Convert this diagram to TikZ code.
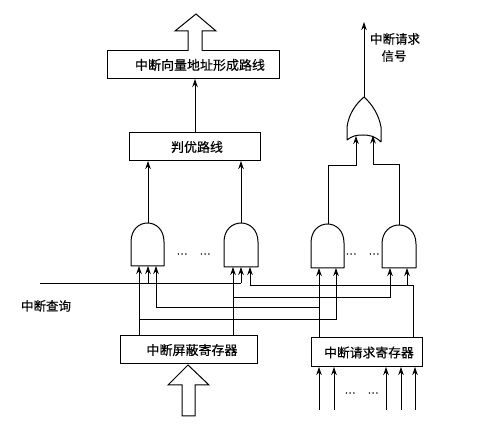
\documentclass[tikz,border=0pt]{standalone}
\usepackage{fontspec}
\setmainfont{Noto Sans CJK SC}[FakeBold=0.25]
\usetikzlibrary{arrows.meta}
\tikzset{
  boxn/.style={draw=black,line width=1pt,fill=white,inner sep=0pt,font=\fontsize{13}{14}\selectfont},
  wire/.style={line width=0.9pt,draw=black},
  arr/.style={wire,-{Stealth[length=8pt,width=5.5pt]}},
  gate/.style={line width=1pt,draw=black,fill=white,line join=round},
  blockarrow/.style={line width=1pt,draw=black,fill=white,line join=miter},
  lbl/.style={inner sep=0pt,font=\fontsize{12.5}{14}\selectfont},
  dots/.style={inner sep=0pt,font=\fontsize{10}{10}\selectfont}
}
\newcommand{\andg}[4]{% left right top bottom
  \path[gate] (#1,#4) -- (#1,{#3+19}) .. controls (#1,{#3+6}) and ({(#1+#2)/2-8},#3) .. ({(#1+#2)/2},#3)
    .. controls ({(#1+#2)/2+8},#3) and (#2,{#3+6}) .. (#2,{#3+19}) -- (#2,#4) -- cycle;}
\begin{document}
\begin{tikzpicture}[x=1pt,y=-1pt]
\useasboundingbox (0,0) rectangle (496,427);
% boxes
\node[boxn,minimum width=172pt,minimum height=28pt] (vec) at (193,65) {\hspace*{14pt}中断向量地址形成路线};
\node[boxn,minimum width=131pt,minimum height=28pt] (pri) at (194.5,147) {\hspace*{5pt}判优路线};
\node[boxn,minimum width=137pt,minimum height=28pt] (mask) at (188.5,350) {\hspace*{7pt}中断屏蔽寄存器};
\node[boxn,minimum width=111pt,minimum height=29pt] (req) at (366.5,352.5) {\hspace*{5pt}\fontsize{12.8}{14}\selectfont 中断请求寄存器};
% block arrows
\path[blockarrow] (188,51) -- (188,31) -- (175,31) -- (196,14) -- (216,31) -- (202,31) -- (202,51);
\path[blockarrow] (182,416) -- (182,385) -- (168,385) -- (188,365) -- (209,385) -- (195,385) -- (195,416) -- cycle;
% gates
\andg{131}{164}{223}{266}
\andg{224}{258}{223}{267}
\andg{311}{344}{224}{268}
\andg{382}{416}{225}{268}
\path[gate] (347,140) -- (347,127) .. controls (349,113) and (356,104) .. (364,97)
  .. controls (372,104) and (379,115) .. (381,127) -- (381,142)
  .. controls (375,136) and (369,135) .. (363,135) .. controls (356,135) and (352,136) .. (347,140) -- cycle;
% ports
\coordinate (g1o) at (148,223); \coordinate (g2o) at (241,223);
\coordinate (g3o) at (328,224); \coordinate (g4o) at (399,225);
\coordinate (p1) at (148,161); \coordinate (p2) at (241,161);
\coordinate (g1a) at (139,266); \coordinate (g1b) at (148,266); \coordinate (g1c) at (156,266);
\coordinate (g2a) at (233,267); \coordinate (g2b) at (241,267); \coordinate (g2c) at (250,267);
\coordinate (g3a) at (319,268); \coordinate (g3b) at (336,268);
\coordinate (g4a) at (390,268); \coordinate (g4b) at (407,268);
\coordinate (m1) at (139,336); \coordinate (m2) at (233,336);
\coordinate (r1) at (319,338); \coordinate (r2) at (413,338);
\coordinate (qs) at (40,283); \coordinate (qe) at (241,283);
\coordinate (or1) at (356,136); \coordinate (or2) at (373,135.5);
\coordinate (oro) at (364,97); \coordinate (orout) at (364,22);
% upper connectors
\draw[arr] (195,133) -- (195,79);
\draw[arr] (g1o) -- (p1);
\draw[arr] (g2o) -- (p2);
\draw[arr] (oro) -- (orout);
\draw[arr] (g3o) -- (328,165) -- (356,165) -- (or1);
\draw[arr] (g4o) -- (399,164) -- (373,164) -- (or2);
% query line
\draw[wire] (qs) -- (qe);
\draw[arr] (148,283) -- (g1b);
\draw[arr] (qe) -- (g2b);
% mask connectors
\draw[arr] (m1) -- (g1a);
\draw[arr] (m2) -- (g2a);
\draw[arr] (139,319) -- (336,319) -- (g3b);
\draw[arr] (233,297) -- (390,297) -- (g4a);
% request connectors
\draw[arr] (r1) -- (g3a);
\draw[arr] (319,307.5) -- (156,307.5) -- (g1c);
\draw[arr] (r2) -- (413,285) -- (250,285) -- (g2c);
\draw[arr] (407,285) -- (g4b);
% request register inputs
\foreach \n/\x in {a/319,b/334,c/386,d/401,e/415}{
  \coordinate (in\n) at (\x,410);
  \draw[arr] (in\n) -- (\x,367);
}
% labels
\node[lbl] (t1) at (395,39) {中断请求};
\node[lbl] (t2) at (394,56) {信号};
\node[lbl] (t3) at (46,306) {中断查询};
\node[dots] (d1) at (182,254) {…};
\node[dots] (d2) at (205,254) {…};
\node[dots] (d3) at (351,254) {…};
\node[dots] (d4) at (374,254) {…};
\node[dots] (d5) at (350,393) {…};
\node[dots] (d6) at (373,393) {…};
\end{tikzpicture}
\end{document}
